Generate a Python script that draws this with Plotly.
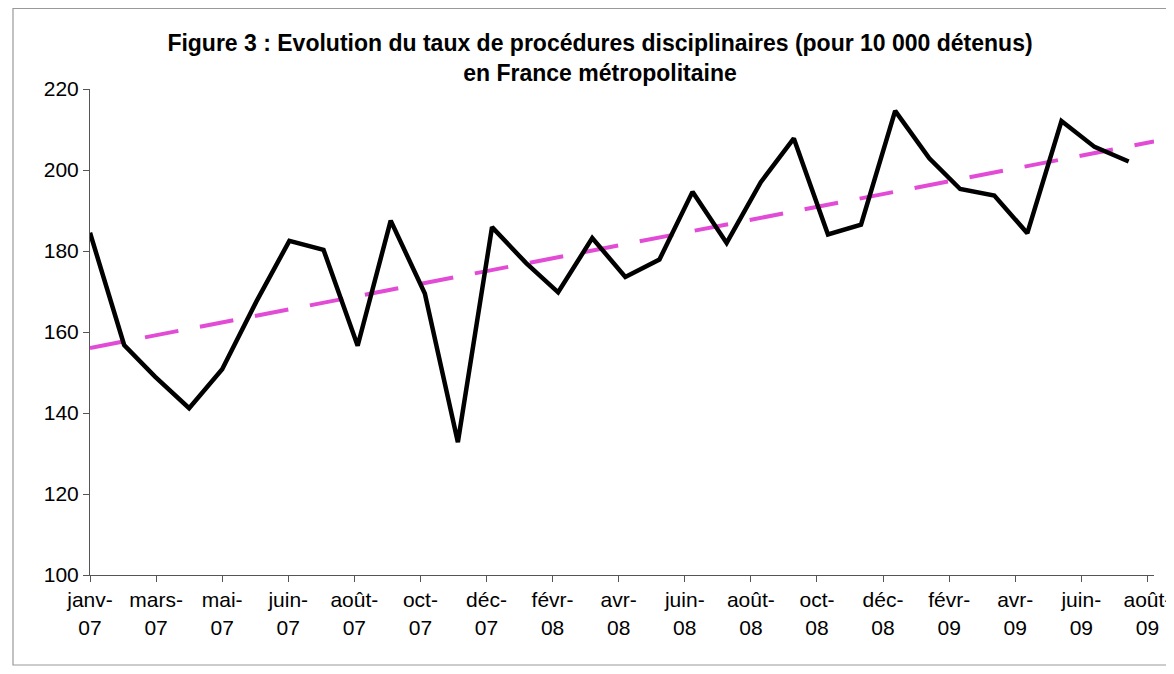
import numpy as np
import pandas as pd
import plotly.graph_objects as go

# --- data ---
start_month = "2007-01-01"
values = [184.5, 156.8, 149.0, 141.2, 150.8, 167.5, 182.5, 180.3, 156.6, 187.5, 169.5, 132.8,
          185.9, 177.0, 169.8, 183.2, 173.6, 177.9, 194.6, 182.0, 197.0, 207.8, 184.1, 186.5,
          214.6, 202.9, 195.3, 193.7, 184.4, 212.1, 205.7, 202.1]
tick_labels = ["janv-<br>07", "mars-<br>07", "mai-<br>07", "juin-<br>07", "août-<br>07",
               "oct-<br>07", "déc-<br>07", "févr-<br>08", "avr-<br>08", "juin-<br>08",
               "août-<br>08", "oct-<br>08", "déc-<br>08", "févr-<br>09", "avr-<br>09",
               "juin-<br>09", "août-<br>09"]
tick_step_days = 60
axis_end = "2009-08-24"

dates = pd.date_range(start_month, periods=len(values), freq="MS")
tick_dates = pd.date_range(start_month, periods=len(tick_labels), freq=f"{tick_step_days}D")

# linear trend (regression on day number), extended to the end of the axis
days = (dates - dates[0]).days.values.astype(float)
slope, intercept = np.polyfit(days, np.array(values), 1)
trend_dates = pd.DatetimeIndex([dates[0], pd.Timestamp(axis_end)])
trend_days = (trend_dates - dates[0]).days.values.astype(float)
trend_vals = slope * trend_days + intercept

# page has an 8px body margin, so the figure is sized/offset accordingly
W, H = 1166, 658
L, R, T, B = 82, 20, 81, 91

fig = go.Figure()
fig.add_trace(go.Scatter(x=trend_dates, y=trend_vals, mode="lines",
                         line=dict(color="#E24BD6", width=4, dash="34px,22px"),
                         hoverinfo="skip", showlegend=False))
fig.add_trace(go.Scatter(x=dates, y=values, mode="lines",
                         line=dict(color="black", width=4.5),
                         showlegend=False))

fig.update_layout(
    width=W, height=H,
    margin=dict(l=L, r=R, t=T, b=B, autoexpand=False),
    paper_bgcolor="white", plot_bgcolor="white",
    font=dict(family="Liberation Sans, Arial, sans-serif", size=21, color="black"),
    title=dict(text="<b>Figure 3 : Evolution du taux de procédures disciplinaires (pour 10 000 détenus)<br>en France métropolitaine</b>",
               x=592 / W, xref="container", xanchor="center",
               y=1 - 43 / H, yref="container", yanchor="middle",
               font=dict(size=23, family="Liberation Sans, Arial, sans-serif")),
    xaxis=dict(type="date", range=[start_month, axis_end],
               tickvals=tick_dates, ticktext=tick_labels,
               showgrid=False, zeroline=False, showline=True, linecolor="#555",
               linewidth=1, ticks="outside", ticklen=6, tickcolor="#555",
               tickfont=dict(size=21), automargin=False, ticklabeloverflow="allow"),
    yaxis=dict(range=[100, 220], dtick=20, tick0=100,
               showgrid=False, zeroline=False, showline=True, linecolor="#555",
               linewidth=1, ticks="outside", ticklen=6, tickcolor="#555",
               tickfont=dict(size=21), automargin=False),
)

# outer chart border
pw, ph = W - L - R, H - T - B
fig.add_shape(type="rect", xref="paper", yref="paper",
              x0=(5 - L) / pw, x1=(W + 5 - L) / pw,
              y0=(H - 657 - B) / ph, y1=(H - 0.5 - B) / ph,
              line=dict(color="#999", width=1.2), layer="below")

fig.write_html("out.html")
